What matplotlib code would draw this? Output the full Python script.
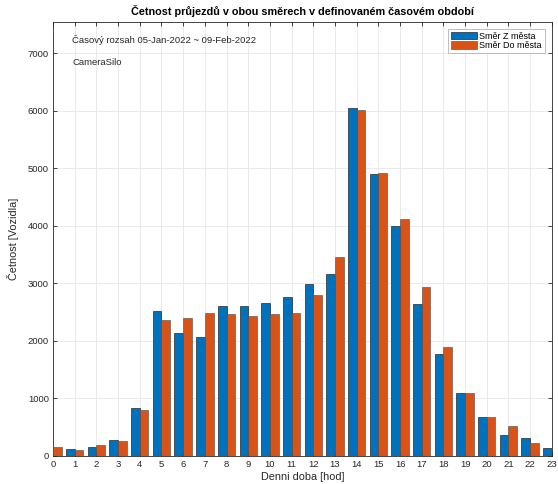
import matplotlib
matplotlib.use("Agg")
import matplotlib.pyplot as plt
import numpy as np

plt.rcParams['font.family'] = ['Liberation Sans', 'DejaVu Sans']

hours = list(range(24))
z_mesta = [150, 115, 150, 278, 828, 2519, 2137, 2073, 2605, 2611, 2663, 2756,
           2993, 3161, 6050, 4898, 4000, 2634, 1766, 1089, 683, 365, 307, 133]
do_mesta = [160, 110, 185, 265, 800, 2362, 2397, 2478, 2466, 2437, 2472, 2490,
            2791, 3468, 6010, 4927, 4128, 2940, 1898, 1089, 683, 521, 220, 100]
series_labels = ['Směr Z města', 'Směr Do města']
title = 'Četnost průjezdů v obou směrech v definovaném časovém období'
info1 = 'Časový rozsah 05-Jan-2022 ~ 09-Feb-2022'
info2 = 'CameraSilo'

blue = '#0072BD'
orange = '#D95319'
axc = '#262626'

fig = plt.figure(figsize=(5.58, 4.84), dpi=100)
ax = fig.add_axes([0.095, 0.058, 0.894, 0.897])

x = np.array(hours)
w = 0.4
ax.bar(x - 0.2, z_mesta, width=w, color=blue, edgecolor='#1a1a1a', linewidth=0.45,
       label=series_labels[0], zorder=3)
ax.bar(x + 0.2, do_mesta, width=w, color=orange, edgecolor='#555555', linewidth=0.45,
       label=series_labels[1], zorder=3)

ax.set_xlim(0, 23)
ax.set_ylim(0, 7550)
ax.set_xticks(hours)
ax.set_yticks(range(0, 7001, 1000))
ax.tick_params(axis='both', direction='in', labelsize=6.8, colors=axc, length=3,
               top=True, right=True, width=0.6, pad=3)
for s in ax.spines.values():
    s.set_color(axc)
    s.set_linewidth(0.6)
ax.grid(True, color='#e6e6e6', linewidth=0.6, zorder=0)
ax.set_axisbelow(True)

ax.set_title(title, fontsize=7.8, fontweight='bold', color='black', pad=5)
ax.set_xlabel('Denni doba [hod]', fontsize=7.8, color=axc, labelpad=2)
ax.set_ylabel('Četnost [Vozidla]', fontsize=7.8, color=axc, labelpad=6)

ax.text(0.88, 7240, info1, fontsize=6.8, color=axc, va='center', ha='left')
ax.text(0.88, 6840, info2, fontsize=6.8, color=axc, va='center', ha='left')

leg = ax.legend(loc='upper right', fontsize=6.5, frameon=True, fancybox=False,
                edgecolor='#a0a0a0', handlelength=2.9, handleheight=0.9,
                handletextpad=0.3, borderpad=0.3, labelspacing=0.05,
                borderaxespad=0.8)
leg.get_frame().set_linewidth(0.6)

fig.savefig('out.png', dpi=100)
